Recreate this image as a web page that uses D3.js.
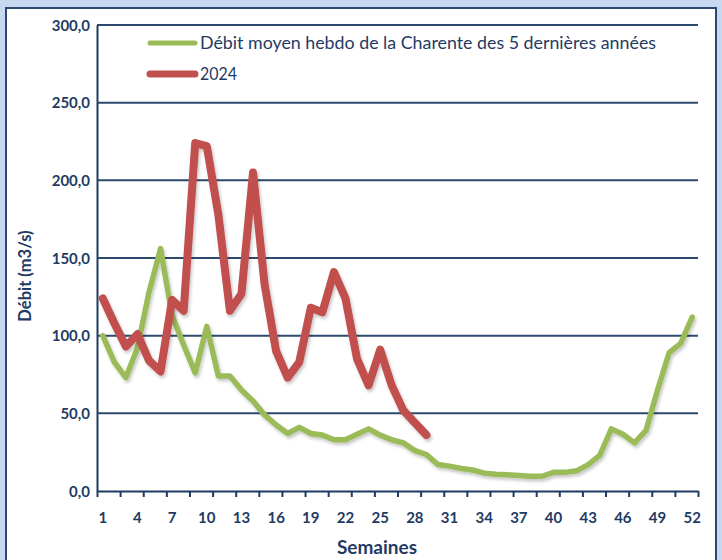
<!DOCTYPE html>
<html>
<head>
<meta charset="utf-8">
<script src="https://cdn.jsdelivr.net/npm/d3@7"></script>
<style>
  html, body { margin: 0; padding: 0; background: #c6d9f1; }
  svg { display: block; }
</style>
</head>
<body>
<svg id="chart" width="722" height="560"></svg>
<script>
// Weekly flow of the Charente (m3/s)
const weeks = d3.range(1, 53);
const avg5yrs = [100, 83, 73, 92, 128, 156, 113, 94, 76, 106,
                 74, 74, 65, 58, 49, 42.5, 37, 41, 37, 36,
                 33, 33, 36.5, 40, 36, 33, 31, 26, 23.5, 17,
                 16, 14.5, 13.5, 11.5, 10.8, 10.5, 10, 9.5, 9.5, 12,
                 12, 13, 17, 23, 40, 36.5, 31, 39, 65, 89,
                 95, 112];
const flow2024 = [124, 108, 93, 101, 84, 77, 123, 116, 224, 222,
                  178, 116, 127, 205, 133, 90, 73, 83, 118, 115,
                  141, 124, 85, 68, 91, 68, 52, 44, 36];
const yTicks = [0, 50, 100, 150, 200, 250, 300];
const xLabelWeeks = d3.range(1, 53, 3);
const seriesNames = ["Débit moyen hebdo de la Charente des 5 dernières années", "2024"];

const navy = "#1f3b63";
const green = "#9bbb59";
const red = "#c0504d";
const font = "Lato, 'Open Sans', sans-serif";

const svg = d3.select("#chart");

// white chart panel with dark frame
svg.append("rect")
  .attr("x", 6).attr("y", 8).attr("width", 710).attr("height", 560)
  .attr("fill", "#ffffff").attr("stroke", "#2c4a70").attr("stroke-width", 2);

const defs = svg.append("defs");
const shadow = defs.append("filter").attr("id", "shadow")
  .attr("x", "-5%").attr("y", "-5%").attr("width", "110%").attr("height", "120%");
shadow.append("feDropShadow")
  .attr("dx", 1.5).attr("dy", 2.5).attr("stdDeviation", 1.5)
  .attr("flood-color", "#000").attr("flood-opacity", 0.22);

const x = d3.scaleLinear().domain([0.5, 52.5]).range([97, 698]);
const y = d3.scaleLinear().domain([0, 300]).range([491, 25]);

// horizontal gridlines
svg.append("g").selectAll("line").data(yTicks.filter(d => d > 0)).join("line")
  .attr("x1", x(0.5)).attr("x2", x(52.5))
  .attr("y1", d => y(d)).attr("y2", d => y(d))
  .attr("stroke", "#2c4a70").attr("stroke-width", 2);

// y axis
const yAxis = svg.append("g").attr("transform", `translate(${x(0.5)},0)`)
  .call(d3.axisLeft(y).tickValues(yTicks).tickSize(0).tickPadding(7)
    .tickFormat(d => d3.format(".1f")(d).replace(".", ",")));
yAxis.select(".domain").attr("stroke", navy).attr("stroke-width", 2);
yAxis.selectAll("text")
  .attr("fill", navy).attr("font-family", font)
  .attr("font-weight", "bold").attr("font-size", 15).attr("dy", "0.35em");

// x axis: tick marks every two weeks, labels every three weeks
const xAxisG = svg.append("g").attr("transform", `translate(0,${y(0)})`);
xAxisG.call(d3.axisBottom(x).tickValues(d3.range(0.5, 53, 2)).tickSize(6).tickSizeOuter(0).tickFormat(""));
xAxisG.select(".domain").attr("stroke", navy).attr("stroke-width", 2);
xAxisG.selectAll(".tick line").attr("stroke", navy).attr("stroke-width", 2);

svg.append("g").selectAll("text").data(xLabelWeeks).join("text")
  .attr("x", d => x(d)).attr("y", 523)
  .attr("text-anchor", "middle")
  .attr("fill", navy).attr("font-family", font)
  .attr("font-weight", "bold").attr("font-size", 15)
  .text(d => d);

// axis titles
svg.append("text")
  .attr("x", 377).attr("y", 554).attr("text-anchor", "middle")
  .attr("fill", navy).attr("font-family", font)
  .attr("font-weight", "bold").attr("font-size", 19).text("Semaines");
svg.append("text")
  .attr("transform", `translate(31,${y(150) + 18}) rotate(-90)`).attr("text-anchor", "middle")
  .attr("fill", navy).attr("font-family", font)
  .attr("font-weight", "bold").attr("font-size", 16.5).text("Débit (m3/s)");

// series lines
const line = d3.line().x((d, i) => x(weeks[i])).y(d => y(d));

svg.append("path").datum(avg5yrs)
  .attr("d", line).attr("fill", "none")
  .attr("stroke", green).attr("stroke-width", 5.5)
  .attr("stroke-linejoin", "round").attr("stroke-linecap", "round")
  .attr("filter", "url(#shadow)");

svg.append("path").datum(flow2024)
  .attr("d", line).attr("fill", "none")
  .attr("stroke", red).attr("stroke-width", 8)
  .attr("stroke-linejoin", "round").attr("stroke-linecap", "round")
  .attr("filter", "url(#shadow)");

// legend
const legend = svg.append("g");
const legendItems = [
  { name: seriesNames[0], color: green, width: 5, y: 43, len: 456 },
  { name: seriesNames[1], color: red, width: 7, y: 74, len: 37 }
];
legendItems.forEach(it => {
  legend.append("line")
    .attr("x1", 150).attr("x2", 195).attr("y1", it.y).attr("y2", it.y)
    .attr("stroke", it.color).attr("stroke-width", it.width).attr("stroke-linecap", "round");
  legend.append("text")
    .attr("x", 200).attr("y", it.y).attr("dy", "0.35em")
    .attr("fill", navy).attr("font-family", font)
    .attr("font-size", 17.5)
    .attr("textLength", it.len).attr("lengthAdjust", "spacingAndGlyphs")
    .text(it.name);
});
</script>
</body>
</html>
